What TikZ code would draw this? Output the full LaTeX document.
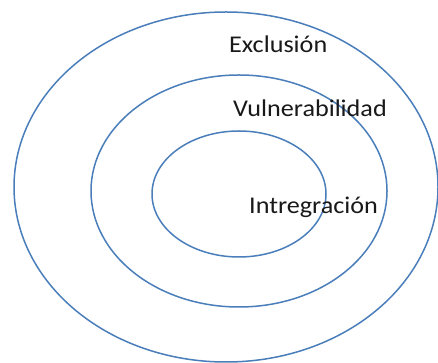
\documentclass[tikz,border=0pt]{standalone}
\usepackage{fontspec}
\setmainfont{Carlito}[FakeStretch=1.09]
\definecolor{ringblue}{HTML}{4A7EBB}
\begin{document}
\begin{tikzpicture}[x=1pt,y=1pt,
  ring/.style={draw=ringblue,line width=1.5pt},
  lab/.style={anchor=base west,inner sep=0pt,text=black!90,font=\fontsize{24}{28}\selectfont}]
\useasboundingbox (0,0) rectangle (438,363);
\clip (0,0) rectangle (438,363);
\fill[white] (0,0) rectangle (438,363);
\draw[ring] (226,176) ellipse [x radius=212, y radius=175];
\draw[ring] (239,172) ellipse [x radius=148, y radius=116];
\draw[ring] (239,169) ellipse [x radius=87, y radius=63];
\node[lab] (ex) at (229,310) {Exclusión};
\node[lab] (vu) at (233,246) {Vulnerabilidad};
\node[lab] (in) at (249,149) {Intregración};
\end{tikzpicture}
\end{document}
